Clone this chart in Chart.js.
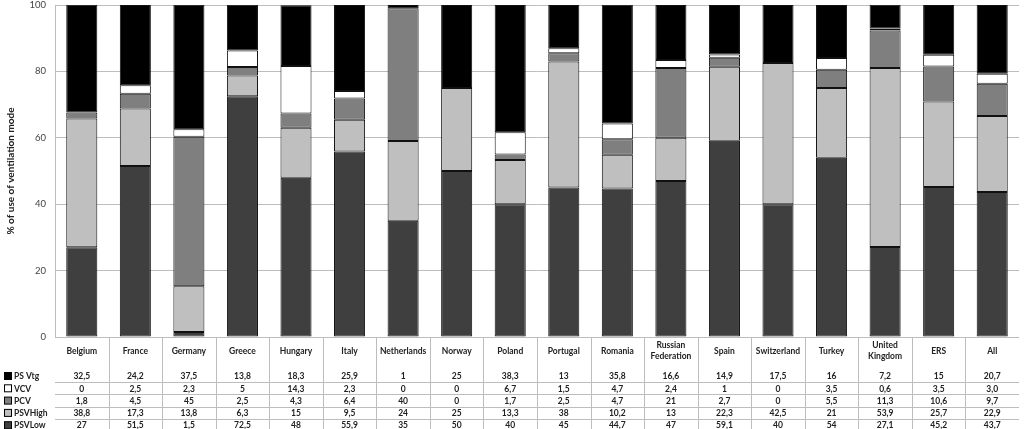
<!DOCTYPE html>
<html>
<head>
<meta charset="utf-8">
<script src="https://cdn.jsdelivr.net/npm/chart.js@4"></script>
<style>
  html, body { margin: 0; padding: 0; background: #fff; }
  #wrap { width: 1024px; height: 429px; }
</style>
</head>
<body>
<div id="wrap"><canvas id="chart" width="1024" height="429"></canvas></div>
<script>
const categories = ["Belgium", "France", "Germany", "Greece", "Hungary", "Italy", "Netherlands", "Norway", "Poland",
  "Portugal", "Romania", ["Russian", "Federation"], "Spain", "Switzerland", "Turkey", ["United", "Kingdom"], "ERS", "All"];

const psVtg   = [32.5, 24.2, 37.5, 13.8, 18.3, 25.9, 1, 25, 38.3, 13, 35.8, 16.6, 14.9, 17.5, 16, 7.2, 15, 20.7];
const vcv     = [0, 2.5, 2.3, 5, 14.3, 2.3, 0, 0, 6.7, 1.5, 4.7, 2.4, 1, 0, 3.5, 0.6, 3.5, 3.0];
const pcv     = [1.8, 4.5, 45, 2.5, 4.3, 6.4, 40, 0, 1.7, 2.5, 4.7, 21, 2.7, 0, 5.5, 11.3, 10.6, 9.7];
const psvHigh = [38.8, 17.3, 13.8, 6.3, 15, 9.5, 24, 25, 13.3, 38, 10.2, 13, 22.3, 42.5, 21, 53.9, 25.7, 22.9];
const psvLow  = [27, 51.5, 1.5, 72.5, 48, 55.9, 35, 50, 40, 45, 44.7, 47, 59.1, 40, 54, 27.1, 45.2, 43.7];

const yTicks = [0, 20, 40, 60, 80, 100];

const FONT = "Lato, 'Open Sans', sans-serif";

// value as printed in the table (comma decimals, last column always one decimal)
function fmt(v, i) {
  const s = i === categories.length - 1 ? v.toFixed(1) : String(v);
  return s.replace(".", ",");
}

// draws the category names and the data table under the bars
const tablePlugin = {
  id: "dataTable",
  afterDraw(chart) {
    const ctx = chart.ctx;
    const x = chart.scales.x;
    const area = chart.chartArea;
    const n = categories.length;
    const step = (area.right - area.left) / n;
    const rowH = 12.3;
    const firstRow = 376;

    ctx.save();

    // vertical separators
    ctx.strokeStyle = "#bdbdbd";
    ctx.lineWidth = 1;
    for (let i = 1; i < n; i++) {
      const px = Math.round(area.left + step * i) + 0.5;
      ctx.beginPath();
      ctx.moveTo(px, area.bottom);
      ctx.lineTo(px, 429);
      ctx.stroke();
    }
    // horizontal separators
    for (let r = 0; r < 4; r++) {
      const py = Math.round(firstRow + rowH * r + rowH / 2) + 0.5;
      ctx.beginPath();
      ctx.moveTo(area.left, py);
      ctx.lineTo(area.right, py);
      ctx.stroke();
    }

    // category names
    ctx.fillStyle = "#222";
    ctx.textAlign = "center";
    ctx.textBaseline = "middle";
    ctx.font = "bold 8.5px " + FONT;
    categories.forEach((c, i) => {
      const cx = x.getPixelForValue(i);
      const lines = Array.isArray(c) ? c : [c];
      lines.forEach((l, k) => {
        const cy = 351 + (k - (lines.length - 1) / 2) * 11;
        ctx.fillText(l, cx, cy);
      });
    });

    // rows: top of stack first
    const ds = chart.data.datasets.slice().reverse();
    ds.forEach((d, r) => {
      const cy = firstRow + rowH * r;
      // legend key
      ctx.fillStyle = d.backgroundColor;
      ctx.fillRect(4.5, cy - 3.5, 7, 7);
      ctx.strokeStyle = "#000";
      ctx.strokeRect(4.5, cy - 3.5, 7, 7);
      ctx.fillStyle = "#222";
      ctx.textAlign = "left";
      ctx.font = "bold 8.5px " + FONT;
      ctx.fillText(d.label, 14, cy + 0.5);
      ctx.textAlign = "center";
      d.data.forEach((v, i) => {
        ctx.fillText(fmt(v, i), x.getPixelForValue(i), cy + 0.5);
      });
    });

    ctx.restore();
  }
};

const barOpts = { borderColor: "#111", borderWidth: 1, borderSkipped: false, barPercentage: 0.58, categoryPercentage: 1 };

new Chart(document.getElementById("chart"), {
  type: "bar",
  data: {
    labels: categories,
    datasets: [
      { label: "PSVLow", data: psvLow, backgroundColor: "#3f3f3f", ...barOpts },
      { label: "PSVHigh", data: psvHigh, backgroundColor: "#bfbfbf", ...barOpts },
      { label: "PCV", data: pcv, backgroundColor: "#7f7f7f", ...barOpts },
      { label: "VCV", data: vcv, backgroundColor: "#ffffff", ...barOpts },
      { label: "PS Vtg", data: psVtg, backgroundColor: "#000000", ...barOpts }
    ]
  },
  options: {
    responsive: false,
    animation: false,
    devicePixelRatio: 1,
    layout: { padding: { top: 5, right: 5, bottom: 92, left: 0 } },
    plugins: { legend: { display: false }, tooltip: { enabled: false } },
    scales: {
      x: {
        stacked: true,
        ticks: { display: false },
        grid: { display: false, drawTicks: false },
        border: { display: false },
        afterFit: (s) => { s.height = 0; }
      },
      y: {
        stacked: true,
        min: 0,
        max: 100,
        afterBuildTicks: (s) => { s.ticks = yTicks.map(v => ({ value: v })); },
        afterFit: (s) => { s.width = 55; s.paddingTop = 0; s.paddingBottom = 0; },
        ticks: { color: "#444", font: { family: FONT, size: 9.5 }, padding: 9 },
        grid: { color: "#bdbdbd", lineWidth: 1, drawTicks: false },
        border: { color: "#bdbdbd" },
        title: {
          display: true,
          text: "% of use of ventilation mode",
          color: "#222",
          font: { family: FONT, size: 10, weight: "bold" },
          padding: { top: 5, bottom: 0 }
        }
      }
    }
  },
  plugins: [tablePlugin]
});
</script>
</body>
</html>
